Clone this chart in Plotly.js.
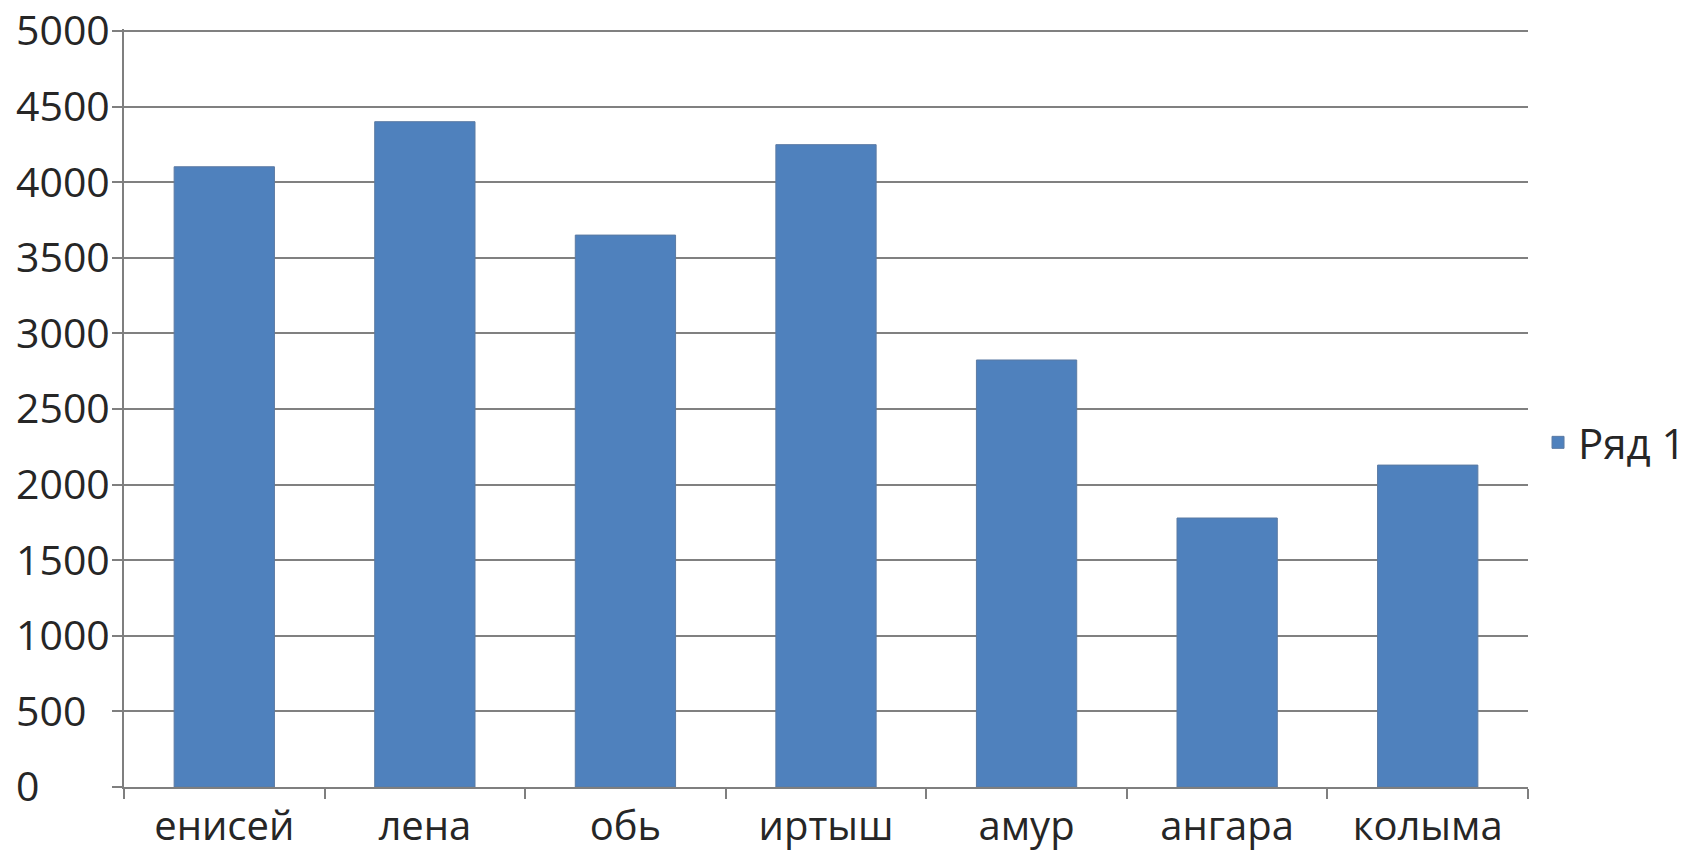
<!DOCTYPE html>
<html>
<head>
<meta charset="utf-8">
<script src="https://cdn.plot.ly/plotly-3.0.1.min.js"></script>
<style>html,body{margin:0;padding:0;background:#fff;}#chart{width:1692px;height:856px;}</style>
</head>
<body>
<div id="chart"></div>
<script>
var categories = ["енисей", "лена", "обь", "иртыш", "амур", "ангара", "колыма"];
var values = [4102, 4400, 3650, 4248, 2824, 1779, 2129];
var seriesName = "Ряд 1";
var yTickVals = [0, 500, 1000, 1500, 2000, 2500, 3000, 3500, 4000, 4500, 5000];
// left-aligned look: pad with figure spaces to the width of 4 digits
var yTickText = yTickVals.map(function (v) {
  var s = String(v);
  while (s.length < 4) s = s + "\u2007";
  return s;
});

var trace = {
  type: "bar",
  x: categories,
  y: values,
  name: seriesName,
  marker: { color: "#4f81bd", line: { color: "#5b7aa3", width: 1 } },
  showlegend: true
};

var fam = "Open Sans, Noto Sans, sans-serif";
var txt = "#262626";

var layout = {
  width: 1692,
  height: 856,
  margin: { l: 124, r: 164, t: 29, b: 69 },
  paper_bgcolor: "#ffffff",
  plot_bgcolor: "#ffffff",
  font: { family: fam, size: 40, color: txt },
  bargap: 0.5,
  xaxis: {
    type: "category",
    showline: true,
    linecolor: "#7f7f7f",
    linewidth: 2,
    ticks: "outside",
    tickson: "boundaries",
    ticklen: 10,
    tickwidth: 2,
    tickcolor: "#7f7f7f",
    showgrid: false,
    tickfont: { family: fam, size: 40, color: txt },
    ticklabelstandoff: 3,
    ticklabeloverflow: "allow",
    zeroline: false
  },
  yaxis: {
    range: [0, 5013],
    tickvals: yTickVals,
    ticktext: yTickText,
    showline: true,
    linecolor: "#7f7f7f",
    linewidth: 2,
    ticks: "outside",
    ticklen: 10,
    tickwidth: 2,
    tickcolor: "#7f7f7f",
    showgrid: true,
    gridcolor: "#808080",
    gridwidth: 2,
    zeroline: false,
    tickfont: { family: fam, size: 41, color: txt },
    ticklabelstandoff: -6,
    ticklabeloverflow: "allow"
  },
  legend: {
    xref: "container",
    x: 0.909,
    xanchor: "left",
    yref: "container",
    y: 0.483,
    yanchor: "middle",
    font: { family: fam, size: 42, color: txt },
    itemwidth: 30,
    bgcolor: "rgba(0,0,0,0)"
  }
};

Plotly.newPlot("chart", [trace], layout, { staticPlot: true, displayModeBar: false });
</script>
</body>
</html>
